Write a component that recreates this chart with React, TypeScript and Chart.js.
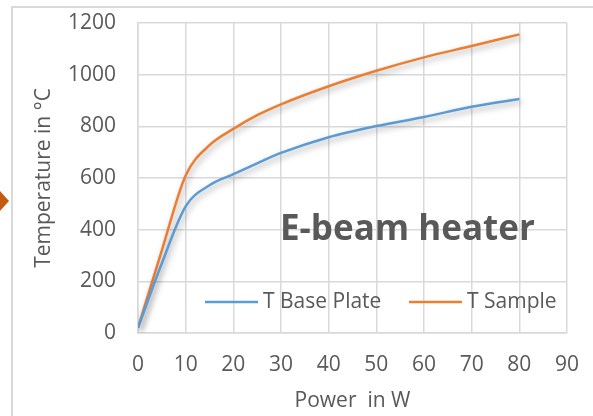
import React, { useEffect, useRef } from "react";
import { Chart, registerables } from "chart.js";

Chart.register(...registerables);

const powerW = [0, 5, 10, 15, 20, 25, 30, 40, 50, 60, 70, 80];
const tBasePlate = [20, 270, 490, 572, 615, 657, 697, 758, 801, 836, 876, 906];
const tSample = [20, 320, 610, 727, 790, 843, 885, 955, 1015, 1067, 1111, 1156];
const seriesNames = ["T Base Plate", "T Sample"];
const chartTitle = "E-beam heater";
const xTitle = "Power  in W";
const yTitle = "Temperature in °C";

const BLUE = "#5b9bd5";
const ORANGE = "#ed7d31";
const TEXT = "#595959";
const GRID = "#d9d9d9";
const FONT = "'Open Sans', sans-serif";

const shadowPlugin = {
  id: "lineShadow",
  beforeDatasetDraw(chart: any) {
    const ctx = chart.ctx;
    ctx.save();
    ctx.shadowColor = "rgba(0,0,0,0.35)";
    ctx.shadowBlur = 6;
    ctx.shadowOffsetX = 2;
    ctx.shadowOffsetY = 3;
  },
  afterDatasetDraw(chart: any) {
    chart.ctx.restore();
  },
};

const overlayPlugin = {
  id: "overlay",
  afterDatasetsDraw(chart: any) {
    const ctx = chart.ctx;
    const a = chart.chartArea;
    ctx.save();
    ctx.fillStyle = TEXT;
    ctx.font = `bold 35px ${FONT}`;
    ctx.textAlign = "left";
    ctx.textBaseline = "alphabetic";
    ctx.fillText(chartTitle, a.left + 142, a.top + 217);
    const ly = a.top + 279;
    const items = [
      { x: a.left + 67, color: BLUE, label: seriesNames[0] },
      { x: a.left + 271, color: ORANGE, label: seriesNames[1] },
    ];
    ctx.font = `21px ${FONT}`;
    ctx.textBaseline = "middle";
    ctx.lineWidth = 2.5;
    for (const it of items) {
      ctx.strokeStyle = it.color;
      ctx.beginPath();
      ctx.moveTo(it.x, ly);
      ctx.lineTo(it.x + 53, ly);
      ctx.stroke();
      ctx.fillStyle = TEXT;
      ctx.fillText(it.label, it.x + 58, ly);
    }
    ctx.restore();
  },
};

export default function App() {
  const ref = useRef<HTMLCanvasElement | null>(null);
  useEffect(() => {
    if (!ref.current) return;
    const chart = new Chart(ref.current, {
      type: "line",
      data: {
        datasets: [
          {
            label: seriesNames[0],
            data: powerW.map((x, i) => ({ x, y: tBasePlate[i] })),
            borderColor: BLUE,
            borderWidth: 2.5,
            pointRadius: 0,
            cubicInterpolationMode: "monotone",
            fill: false,
          },
          {
            label: seriesNames[1],
            data: powerW.map((x, i) => ({ x, y: tSample[i] })),
            borderColor: ORANGE,
            borderWidth: 2.5,
            pointRadius: 0,
            cubicInterpolationMode: "monotone",
            fill: false,
          },
        ],
      },
      options: {
        animation: false,
        responsive: false,
        devicePixelRatio: 1,
        layout: { padding: { top: 23, right: 26, left: 0, bottom: 0 } },
        plugins: { legend: { display: false }, title: { display: false }, tooltip: { enabled: false } },
        scales: {
          x: {
            type: "linear",
            min: 0,
            max: 90,
            ticks: { stepSize: 10, color: TEXT, font: { family: FONT, size: 21 }, padding: 19, callback: (v: any) => String(v) },
            grid: { color: GRID, lineWidth: 1.5, drawTicks: false },
            border: { color: GRID, width: 1.5 },
            title: { display: true, text: xTitle, color: TEXT, font: { family: FONT, size: 21 }, padding: { bottom: 2, top: 0 } },
            afterFit(s: any) { s.height = 83; s.paddingLeft = 0; s.paddingRight = 0; },
          },
          y: {
            min: 0,
            max: 1200,
            ticks: { stepSize: 200, color: TEXT, font: { family: FONT, size: 21 }, padding: 22, callback: (v: any) => String(v) },
            grid: { color: GRID, lineWidth: 1.5, drawTicks: false },
            border: { color: GRID, width: 1.5 },
            title: { display: true, text: yTitle, color: TEXT, font: { family: FONT, size: 21 }, padding: { top: 31, bottom: 0 } },
            afterFit(s: any) { s.width = 138; s.paddingTop = 0; s.paddingBottom = 0; },
          },
        },
      },
      plugins: [shadowPlugin, overlayPlugin],
    } as any);
    return () => chart.destroy();
  }, []);
  return (
    <div style={{ position: "fixed", left: 0, top: 0, width: 593, height: 416, background: "#fff", overflow: "hidden" }}>
      <div style={{ position: "absolute", left: 11, top: 7, width: 2, height: 409, background: GRID }} />
      <div style={{ position: "absolute", left: 11, top: 6, width: 582, height: 2, background: GRID }} />
      <div
        style={{
          position: "absolute",
          left: 0,
          top: 191,
          width: 0,
          height: 0,
          borderTop: "10px solid transparent",
          borderBottom: "10px solid transparent",
          borderLeft: "9px solid #c55a11",
        }}
      />
      <canvas ref={ref} width={593} height={416} style={{ position: "absolute", left: 0, top: 0 }} />
    </div>
  );
}
